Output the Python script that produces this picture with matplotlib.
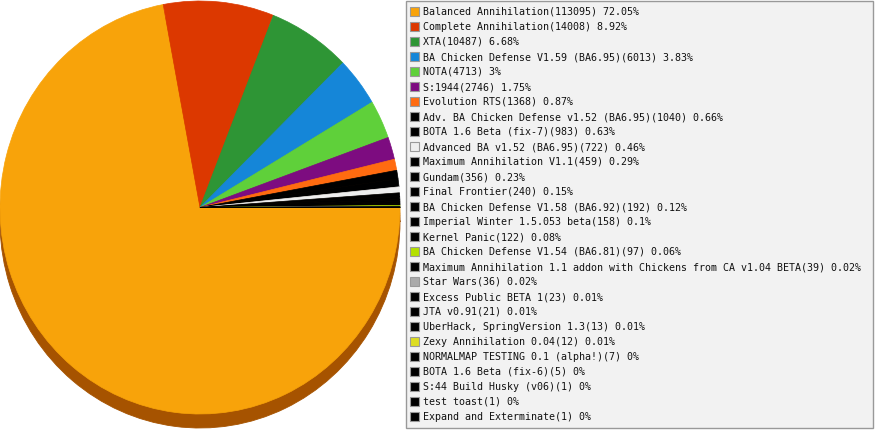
import matplotlib
matplotlib.use("Agg")
import matplotlib.pyplot as plt
from matplotlib.patches import Rectangle

names = [
    "Balanced Annihilation", "Complete Annihilation", "XTA",
    "BA Chicken Defense V1.59 (BA6.95)", "NOTA", "S:1944", "Evolution RTS",
    "Adv. BA Chicken Defense v1.52 (BA6.95)", "BOTA 1.6 Beta (fix-7)",
    "Advanced BA v1.52 (BA6.95)", "Maximum Annihilation V1.1", "Gundam",
    "Final Frontier", "BA Chicken Defense V1.58 (BA6.92)",
    "Imperial Winter 1.5.053 beta", "Kernel Panic",
    "BA Chicken Defense V1.54 (BA6.81)",
    "Maximum Annihilation 1.1 addon with Chickens from CA v1.04 BETA",
    "Star Wars", "Excess Public BETA 1", "JTA v0.91",
    "UberHack, SpringVersion 1.3", "Zexy Annihilation 0.04",
    "NORMALMAP TESTING 0.1 (alpha!)", "BOTA 1.6 Beta (fix-6)",
    "S:44 Build Husky (v06)", "test toast", "Expand and Exterminate",
]
counts = [113095, 14008, 10487, 6013, 4713, 2746, 1368, 1040, 983, 722, 459,
          356, 240, 192, 158, 122, 97, 39, 36, 23, 21, 13, 12, 7, 5, 1, 1, 1]
colors = ["#f8a30a", "#dc3800", "#2e9535", "#1586d8", "#5fd03a", "#7d0c80",
          "#ff6b10", "#000000", "#000000", "#eeeeee", "#000000", "#000000",
          "#000000", "#000000", "#000000", "#000000", "#b4e000", "#000000",
          "#aaaaaa", "#000000", "#000000", "#000000", "#dddd22", "#000000",
          "#000000", "#000000", "#000000", "#000000"]
shadow_color = "#a65300"

W, H = 875, 430
fig = plt.figure(figsize=(W / 100, H / 100), dpi=100)
fig.patch.set_facecolor("white")

def px_axes(x0, y0, x1, y1):
    return fig.add_axes([x0 / W, (H - y1) / H, (x1 - x0) / W, (y1 - y0) / H])

# shadow (thickness) of the pie
ax_s = px_axes(0, 15, 400, 428)
ws, _ = ax_s.pie(counts, colors=[shadow_color] * len(counts), startangle=0,
                 counterclock=False, wedgeprops=dict(linewidth=0.6))
for w in ws:
    w.set_edgecolor(shadow_color)
ax_s.set_aspect("auto")
ax_s.set_xlim(-1, 1)
ax_s.set_ylim(-1, 1)
ax_s.axis("off")

# top face
ax_p = px_axes(0, 1, 400, 414)
wp, _ = ax_p.pie(counts, colors=colors, startangle=0, counterclock=False,
                 wedgeprops=dict(linewidth=0.5))
for w in wp:
    w.set_edgecolor(w.get_facecolor())
ax_p.set_aspect("auto")
ax_p.set_xlim(-1, 1)
ax_p.set_ylim(-1, 1)
ax_p.axis("off")

# legend
ax_l = fig.add_axes([0, 0, 1, 1])
ax_l.set_xlim(0, W)
ax_l.set_ylim(H, 0)
ax_l.axis("off")
ax_l.add_patch(Rectangle((405.5, 0.5), 467, 427.5, facecolor="#f2f2f2",
                         edgecolor="#999999", linewidth=1))
total = sum(counts)
for i, (n, c, col) in enumerate(zip(names, counts, colors)):
    yc = 12 + 15 * i
    ax_l.add_patch(Rectangle((410, yc - 5), 9, 9, facecolor=col,
                             edgecolor="#999999", linewidth=0.8))
    pct = f"{round(c / total * 100, 2):g}"
    ax_l.text(423, yc, f"{n}({c}) {pct}%", fontsize=7.2,
              family="DejaVu Sans Mono", va="center", ha="left",
              color="#111111")

fig.savefig("out.png", dpi=100)
